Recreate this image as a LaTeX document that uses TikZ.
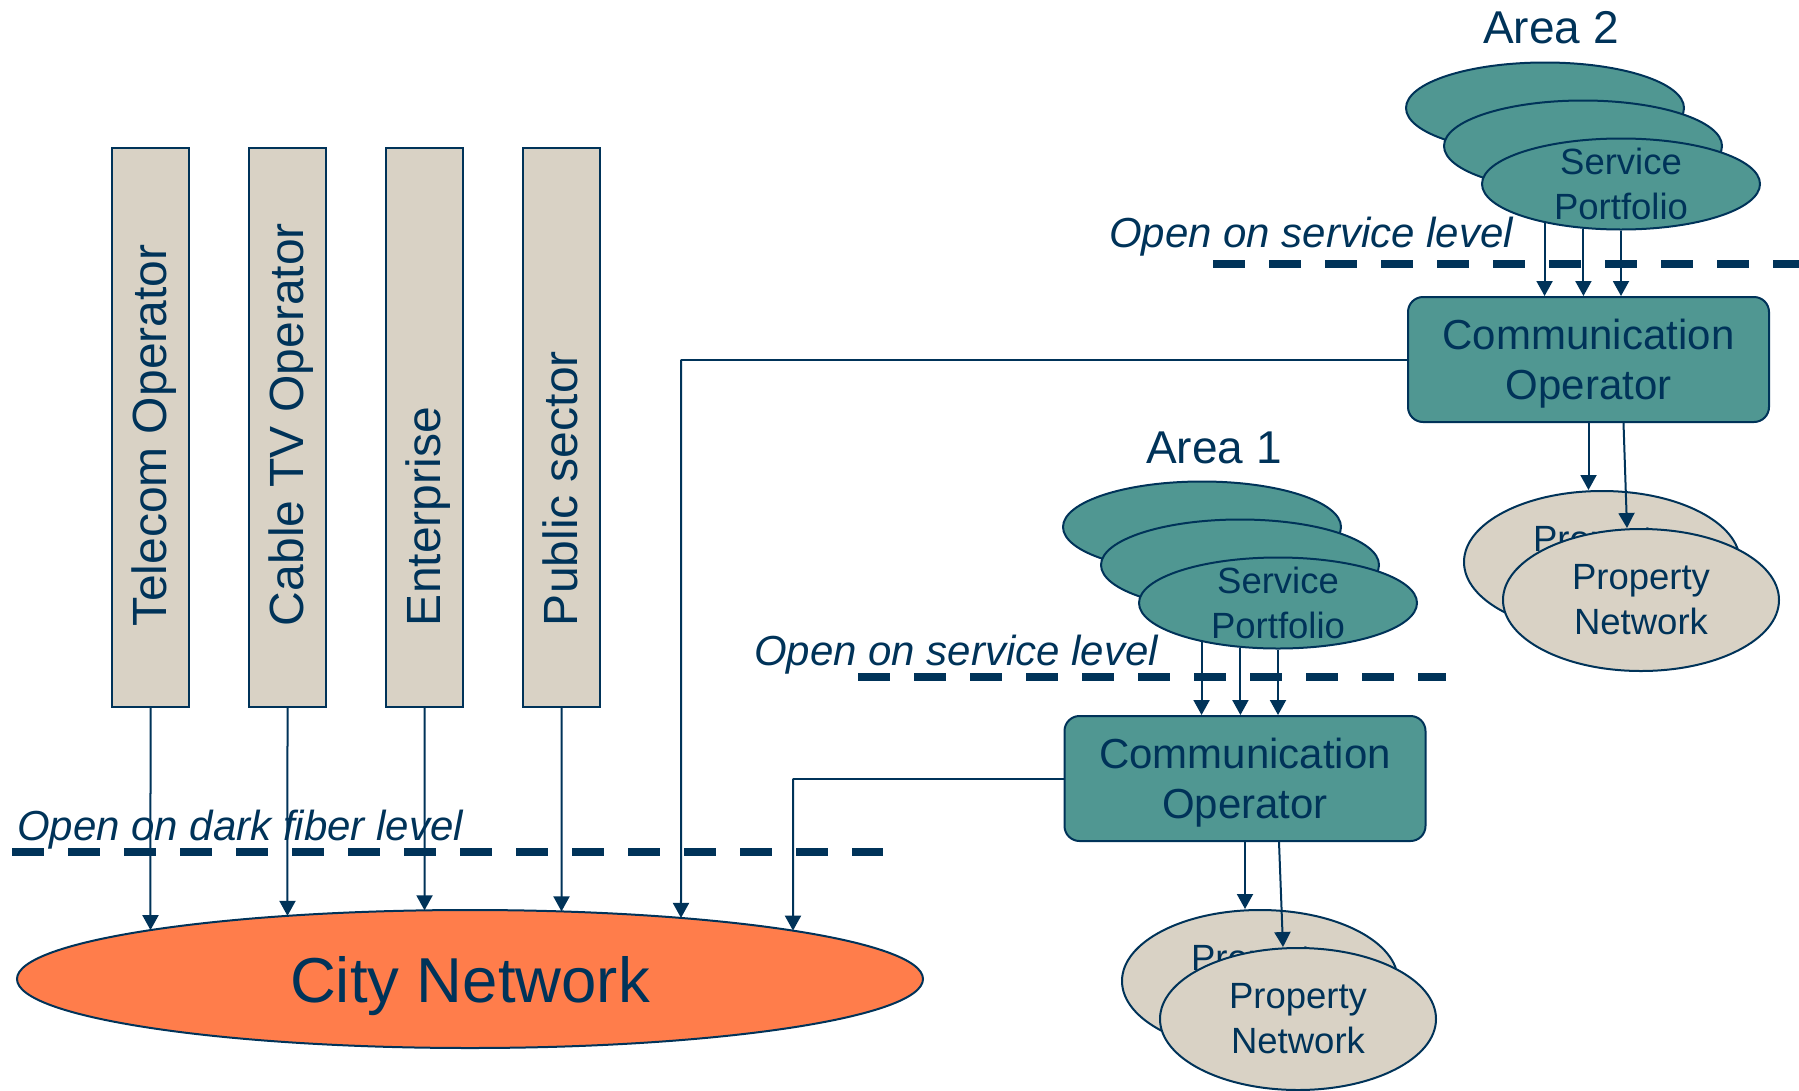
\documentclass[tikz,border=0pt]{standalone}
\usepackage{fontspec}
\setmainfont{Liberation Sans}
\usetikzlibrary{arrows.meta,calc,intersections,shapes.geometric}
\definecolor{navy}{RGB}{0,51,89}
\definecolor{sea}{RGB}{80,151,146}
\definecolor{sand}{RGB}{217,210,197}
\definecolor{tangerine}{RGB}{255,125,75}
\newcommand{\fsz}[2]{\fontsize{#1}{#2}\selectfont}

\begin{document}
\begin{tikzpicture}[x=1pt,y=-1pt,line width=2pt,color=navy,
    >={Triangle[width=16pt,length=15pt]},node distance=137pt,
    bar node/.style={draw,fill=sand,minimum width=77pt,minimum height=559pt,inner sep=0pt},
    bar text/.style={rotate=90,anchor=base west,inner sep=0pt,font=\fsz{48}{58}},
    city node/.style={draw,fill=tangerine,ellipse,minimum width=906pt,minimum height=138pt,inner sep=0pt,text depth=0pt,font=\fsz{63.5}{76}},
    op node/.style={draw,fill=sea,rounded corners=15pt,minimum width=361pt,minimum height=125pt,align=center,text depth=0pt,font=\fsz{42}{50}},
    sp node/.style={draw,fill=sea,ellipse,minimum width=278pt,minimum height=91pt,inner xsep=0pt,inner ysep=-6pt,align=center,font=\fsz{36.5}{45}},
    pn node/.style={draw,fill=sand,ellipse,minimum width=276pt,minimum height=142pt,inner sep=0pt,align=center,font=\fsz{36.5}{45}},
    area text/.style={anchor=base,inner sep=0pt,font=\fsz{46}{55}},
    level text/.style={anchor=base west,inner sep=0pt,font=\fsz{42}{50}\itshape},
    level line/.style={line width=8pt,dash pattern=on 32pt off 24pt}]
    \useasboundingbox (0,0) rectangle (1799,1090);

    % actors on the dark fiber level
    \node[bar node] (1) at (150.5,427.5) {};
    \node[bar node] (2) [right of=1] {};
    \node[bar node] (3) [right of=2] {};
    \node[bar node] (4) [right of=3] {};
    \foreach \b/\t in {1/Telecom Operator,2/Cable TV Operator,3/Enterprise,4/Public sector}
        \node[bar text] (t\b) at ($(\b.south)+(15.5,-81)$) {\t};

    \node[city node,name path=rim] (5) at (470,979) {City Network};

    \node[level text] (l0) at (16,840) {Open on dark fiber level};
    \draw[level line] (12,852) -- (883,852);

    % area 1
    \node[area text] (a1) at (1214,463) {Area 1};
    \node[sp node] (8) at (1202,527) {};
    \node[sp node] (9) at (1240,565) {};
    \node[sp node] (10) at (1278,603) {Service\\Portfolio};
    \node[level text] (l1) at (753,665) {Open on service level};
    \draw[level line] (858,677) -- (1446,677);
    \node[op node] (6) at (1245,778.5) {Communication\\Operator};
    \node[pn node] (14) at (1260,981) {Property\\Network};
    \node[pn node] (15) at (1298,1019) {Property\\Network};

    % area 2
    \node[area text] (a2) at (1551,43) {Area 2};
    \node[sp node] (11) at (1545,108) {};
    \node[sp node] (12) at (1583,146) {};
    \node[sp node] (13) at (1621,184) {Service\\Portfolio};
    \node[level text] (l2) at (1108,247) {Open on service level};
    \draw[level line] (1213,264) -- (1799,264);
    \node[op node] (7) at (1588.5,359.5) {Communication\\Operator};
    \node[pn node] (16) at (1602,562) {Property\\Network};
    \node[pn node] (17) at (1641,600) {Property\\Network};

    % services down to the operators
    \foreach \a in {207,230,270} {
        \draw[->] (10.\a) -- (10.\a |- 6.north);
        \draw[->] (13.\a) -- (13.\a |- 7.north);
    }
    \draw[->] (6.south) -- (6.south |- 14.north);
    \draw[->] ($(6.south)+(34,0)$) -- ($(15.north)+(-15,0)$);
    \draw[->] (7.south) -- (7.south |- 16.north);
    \draw[->] ($(7.south)+(35,0)$) -- ($(17.north)+(-14,0)$);

    % everything lands on the city network
    \coordinate (c1) at (793,778.5);
    \coordinate (c2) at (681,359.5);
    \draw (6.west) -- (c1);
    \draw (7.west) -- (c2);
    \foreach \s in {1,2,3,4} {
        \path[name path=drop] (\s.south) -- ++(0,400);
        \draw[->,name intersections={of=drop and rim,sort by=drop}] (\s.south) -- (intersection-1);
    }
    \foreach \s in {c1,c2} {
        \path[name path=drop] (\s) -- ++(0,720);
        \draw[->,name intersections={of=drop and rim,sort by=drop}] (\s) -- (intersection-1);
    }
\end{tikzpicture}
\end{document}
